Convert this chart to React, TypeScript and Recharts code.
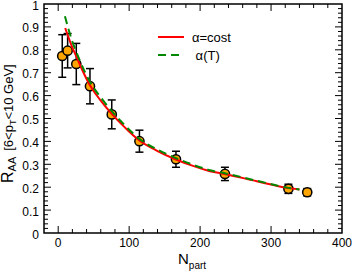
import React from 'react';
import {
  ComposedChart,
  XAxis,
  YAxis,
  Line,
  Scatter,
  ErrorBar,
  ReferenceLine,
  ReferenceArea,
  Legend,
} from 'recharts';

// ---- data ----
const nPart = [5.7, 13.3, 25.5, 44.8, 75.5, 114.5, 166, 235, 324.5, 351];
const rAA = [0.773, 0.796, 0.738, 0.641, 0.518, 0.401, 0.322, 0.258, 0.193, 0.178];
const rAAErr = [0.093, 0.075, 0.09, 0.077, 0.063, 0.048, 0.035, 0.029, 0.02, 0.016];

const constX = [9.9, 15, 20, 25, 32, 44.8, 60, 75.5, 95, 114, 140, 166, 190, 214, 236, 280, 325, 340];
const constY = [0.895, 0.85, 0.81, 0.775, 0.725, 0.645, 0.578, 0.52, 0.458, 0.405, 0.358, 0.321, 0.293, 0.27, 0.257, 0.226, 0.196, 0.19];

const tempX = [9.5, 15, 20, 25, 32, 44.8, 60, 75.5, 95, 114, 140, 166, 190, 214, 236, 280, 325, 340];
const tempY = [0.947, 0.885, 0.835, 0.795, 0.742, 0.66, 0.592, 0.532, 0.467, 0.412, 0.364, 0.327, 0.298, 0.274, 0.26, 0.228, 0.197, 0.19];

const xTicks = [0, 100, 200, 300, 400];
const yTicks = [0, 0.1, 0.2, 0.3, 0.4, 0.5, 0.6, 0.7, 0.8, 0.9, 1];

const seriesKeys = ['cst', 'temp'];
const seriesNames = ['\u03b1=cost', '\u00a0\u03b1(T)'];
const seriesColors = ['#ff0000', '#008800'];
const seriesDash = [undefined, '8 5'];

// ---- frame / layout constants ----
const X_MIN = -20;
const X_MAX = 400;
const Y_MIN = 0;
const Y_MAX = 1;
const W = 354;
const H = 273;
const MARGIN = { top: 4, right: 12, bottom: 0, left: 0 };
const Y_AXIS_W = 44;
const X_AXIS_H = 40;
const PLOT_W = W - MARGIN.left - MARGIN.right - Y_AXIS_W;
const PLOT_H = H - MARGIN.top - MARGIN.bottom - X_AXIS_H;
const PX_PER_X = PLOT_W / (X_MAX - X_MIN);
const PX_PER_Y = PLOT_H / (Y_MAX - Y_MIN);
const MAJOR_PX = 7;
const MINOR_PX = 4;
const FONT = '"Liberation Sans", Arial, Helvetica, sans-serif';

const points = nPart.map((x, i) => ({ x, y: rAA[i], err: rAAErr[i] }));
const constLine = constX.map((x, i) => ({ x, cst: constY[i] }));
const tempLine = tempX.map((x, i) => ({ x, temp: tempY[i] }));
const lineData = [constLine, tempLine];

// minor/major tick positions
const xTickPos: { v: number; major: boolean }[] = [];
for (let i = 1; i < 21; i++) {
  const v = X_MIN + 20 * i;
  xTickPos.push({ v, major: v % 100 === 0 });
}
const yTickPos: { v: number; major: boolean }[] = [];
for (let i = 1; i < 50; i++) {
  yTickPos.push({ v: i / 50, major: i % 5 === 0 });
}

const YTick = (props: any) => {
  const { x, y, payload } = props;
  return (
    <text
      x={x}
      y={y + 1.5}
      textAnchor="end"
      dominantBaseline="central"
      fontSize={12}
      fontFamily={FONT}
      fill="#000"
    >
      {String(payload.value)}
    </text>
  );
};

const YLabel = () => (
  <text
    transform="rotate(-90)"
    x={-183}
    y={13}
    fontFamily={FONT}
    fill="#000"
    textAnchor="start"
  >
    <tspan fontSize={16}>R</tspan>
    <tspan fontSize={11} dy={3}>AA</tspan>
    <tspan fontSize={13} dy={-3} dx={6}>[6&lt;p</tspan>
    <tspan fontSize={9} dy={3}>T</tspan>
    <tspan fontSize={13} dy={-3}>&lt;10 GeV]</tspan>
  </text>
);

const XLabel = () => (
  <text x={178} y={264} fontFamily={FONT} fill="#000" textAnchor="start">
    <tspan fontSize={15}>N</tspan>
    <tspan fontSize={10} dy={5}>part</tspan>
  </text>
);

const renderLegend = () => (
  <svg width={110} height={42}>
    {seriesNames.map((name, i) => {
      const yy = 12 + 18 * i;
      return (
        <g key={name}>
          <line
            x1={8}
            x2={34}
            y1={yy}
            y2={yy}
            stroke={seriesColors[i]}
            strokeWidth={2}
            strokeDasharray={seriesDash[i]}
          />
          <text
            x={42}
            y={yy}
            dominantBaseline="central"
            fontSize={13}
            fontFamily={FONT}
            fill="#000"
          >
            {name}
          </text>
        </g>
      );
    })}
  </svg>
);

const Marker = (props: any) => {
  const { cx, cy } = props;
  if (cx == null || cy == null) return null;
  return <circle cx={cx} cy={cy} r={4.6} fill="#ffa500" stroke="#000" strokeWidth={1.5} />;
};

export default function App() {
  return (
    <div style={{ position: 'absolute', left: 0, top: 0, background: '#fff' }}>
      <ComposedChart width={W} height={H} margin={MARGIN}>
        <XAxis
          dataKey="x"
          type="number"
          domain={[X_MIN, X_MAX]}
          ticks={xTicks}
          interval={0}
          allowDataOverflow
          height={X_AXIS_H}
          axisLine={false}
          tickLine={false}
          tickSize={0}
          tickMargin={5}
          tick={{ fill: '#000', fontSize: 12, fontFamily: FONT }}
          label={XLabel}
        />
        <YAxis
          type="number"
          domain={[Y_MIN, Y_MAX]}
          ticks={yTicks}
          interval={0}
          allowDataOverflow
          width={Y_AXIS_W}
          axisLine={false}
          tickLine={false}
          tickSize={0}
          tickMargin={5}
          tick={YTick}
          label={YLabel}
        />
        <ReferenceArea
          x1={X_MIN}
          x2={X_MAX}
          y1={Y_MIN}
          y2={Y_MAX}
          fill="none"
          fillOpacity={0}
          stroke="#000"
          strokeWidth={1.5}
          ifOverflow="visible"
        />
        {xTickPos.map((t) => {
          const len = (t.major ? MAJOR_PX : MINOR_PX) / PX_PER_Y;
          return (
            <ReferenceLine
              key={'xb' + t.v}
              segment={[{ x: t.v, y: Y_MIN }, { x: t.v, y: Y_MIN + len }]}
              stroke="#000"
              strokeWidth={1}
              ifOverflow="visible"
            />
          );
        })}
        {xTickPos.map((t) => {
          const len = (t.major ? MAJOR_PX : MINOR_PX) / PX_PER_Y;
          return (
            <ReferenceLine
              key={'xt' + t.v}
              segment={[{ x: t.v, y: Y_MAX }, { x: t.v, y: Y_MAX - len }]}
              stroke="#000"
              strokeWidth={1}
              ifOverflow="visible"
            />
          );
        })}
        {yTickPos.map((t) => {
          const len = (t.major ? MAJOR_PX : MINOR_PX) / PX_PER_X;
          return (
            <ReferenceLine
              key={'yl' + t.v}
              segment={[{ x: X_MIN, y: t.v }, { x: X_MIN + len, y: t.v }]}
              stroke="#000"
              strokeWidth={1}
              ifOverflow="visible"
            />
          );
        })}
        {yTickPos.map((t) => {
          const len = (t.major ? MAJOR_PX : MINOR_PX) / PX_PER_X;
          return (
            <ReferenceLine
              key={'yr' + t.v}
              segment={[{ x: X_MAX, y: t.v }, { x: X_MAX - len, y: t.v }]}
              stroke="#000"
              strokeWidth={1}
              ifOverflow="visible"
            />
          );
        })}
        <Scatter
          data={points}
          dataKey="y"
          shape={Marker}
          legendType="none"
          isAnimationActive={false}
        >
          <ErrorBar
            dataKey="err"
            direction="y"
            width={4}
            stroke="#000"
            strokeWidth={1.5}
            isAnimationActive={false}
          />
        </Scatter>
        {lineData.map((d, i) => (
          <Line
            key={seriesKeys[i]}
            data={d}
            dataKey={seriesKeys[i]}
            name={seriesNames[i]}
            type="monotone"
            stroke={seriesColors[i]}
            strokeWidth={2}
            strokeDasharray={seriesDash[i]}
            dot={false}
            activeDot={false}
            isAnimationActive={false}
            zIndex={700}
          />
        ))}
        <Legend
          layout="horizontal"
          verticalAlign="middle"
          align="center"
          content={renderLegend}
          wrapperStyle={{ left: 150, top: 25, width: 110, height: 42 }}
        />
      </ComposedChart>
    </div>
  );
}
